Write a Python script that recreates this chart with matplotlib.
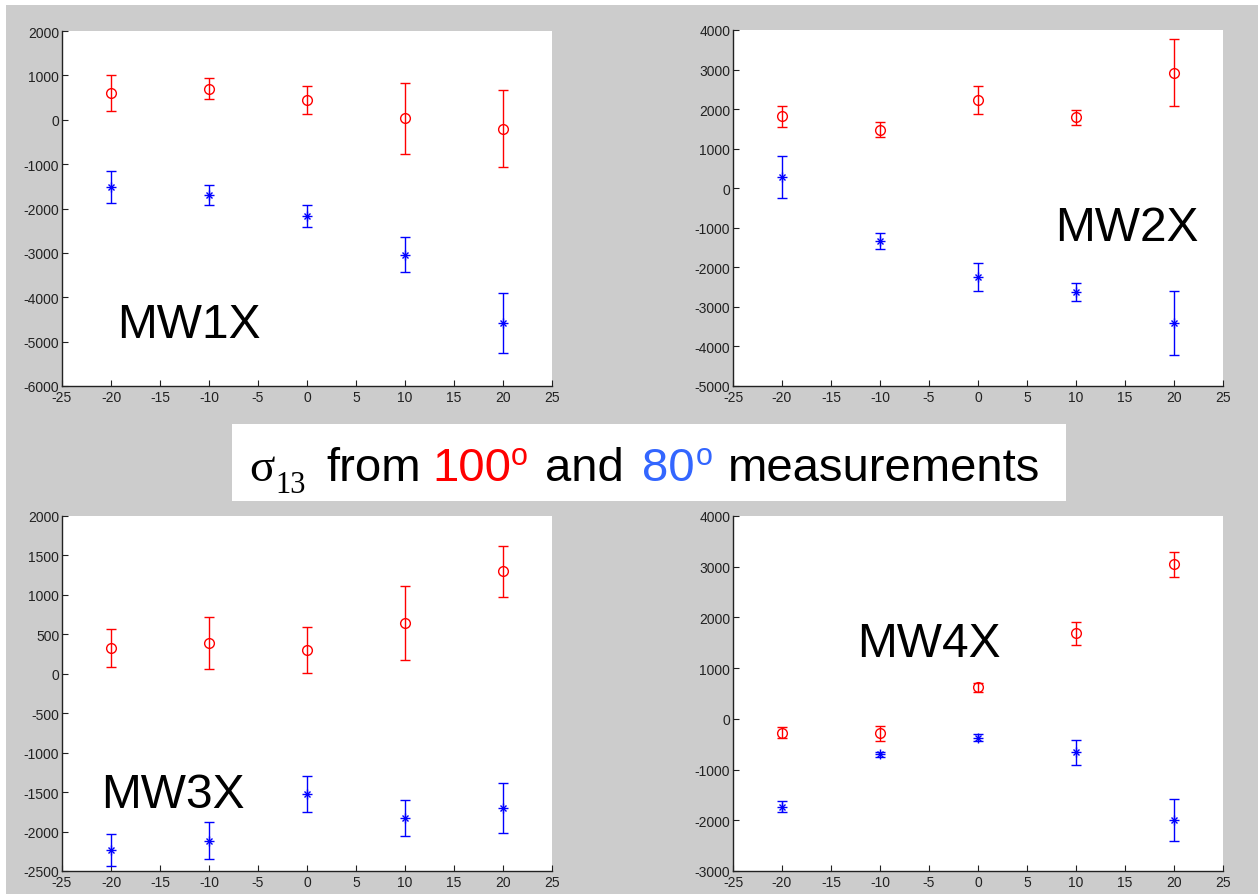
import matplotlib.pyplot as plt
from matplotlib.patches import Rectangle

W, H = 1258, 895

# angles (x axis)
angles = [-20, -10, 0, 10, 20]

# MW1X
mw1_red = [600, 700, 450, 30, -200]
mw1_red_err = [410, 235, 310, 795, 860]
mw1_blue = [-1510, -1700, -2170, -3040, -4590]
mw1_blue_err = [360, 225, 252, 388, 677]

# MW2X
mw2_red = [1820, 1480, 2225, 1790, 2915]
mw2_red_err = [267, 195, 347, 195, 847]
mw2_blue = [285, -1330, -2248, -2618, -3412]
mw2_blue_err = [530, 195, 360, 233, 805]

# MW3X
mw3_red = [325, 390, 300, 646, 1297]
mw3_red_err = [241, 328, 292, 473, 321]
mw3_blue = [-2230, -2117, -1522, -1828, -1700]
mw3_blue_err = [203, 237, 228, 230, 319]

# MW4X
mw4_red = [-270, -286, 619, 1688, 3044]
mw4_red_err = [100, 151, 82, 227, 240]
mw4_blue = [-1730, -699, -368, -662, -1995]
mw4_blue_err = [108, 46, 72, 250, 408]

panels = [
    # name, red, red err, blue, blue err, ylim, y step, axes box (px), label pos (axes frac)
    ("MW1X", mw1_red, mw1_red_err, mw1_blue, mw1_blue_err, (-6000, 2000), 1000, (62, 32, 552, 387), (0.112, 0.138)),
    ("MW2X", mw2_red, mw2_red_err, mw2_blue, mw2_blue_err, (-5000, 4000), 1000, (733, 31, 1223, 387), (0.657, 0.41)),
    ("MW3X", mw3_red, mw3_red_err, mw3_blue, mw3_blue_err, (-2500, 2000), 500, (62, 517, 552, 872), (0.080, 0.18)),
    ("MW4X", mw4_red, mw4_red_err, mw4_blue, mw4_blue_err, (-3000, 4000), 1000, (733, 517, 1223, 872), (0.254, 0.606)),
]

plt.rcParams['font.family'] = ['Liberation Sans', 'DejaVu Sans']
plt.rcParams['axes.unicode_minus'] = False

fig = plt.figure(figsize=(W / 100, H / 100), dpi=100)
fig.patch.set_facecolor('white')

# серый фон
fig.patches.append(Rectangle((6 / W, 0), 1 - 6 / W, 1 - 6 / H, transform=fig.transFigure,
                             facecolor='#cccccc', edgecolor='none', zorder=-10))

for name, red, red_err, blue, blue_err, ylim, ystep, box, lab in panels:
    x0, y0, x1, y1 = box
    ax = fig.add_axes([x0 / W, 1 - y1 / H, (x1 - x0) / W, (y1 - y0) / H])
    ax.set_facecolor('white')
    ax.errorbar(angles, red, yerr=red_err, fmt='o', color='#ff0000', mfc='none',
                ms=7, mew=1, elinewidth=1, capsize=3.5, capthick=1)
    ax.errorbar(angles, blue, yerr=blue_err, fmt='none', ecolor='#0000ff',
                elinewidth=1, capsize=3.5, capthick=1)
    ax.plot(angles, blue, ls='none', marker='+', color='#0000ff', ms=7, mew=1)
    ax.plot(angles, blue, ls='none', marker='x', color='#0000ff', ms=5, mew=1)
    ax.set_xlim(-25, 25)
    ax.set_ylim(*ylim)
    ax.set_xticks(range(-25, 26, 5))
    ax.set_yticks(range(ylim[0], ylim[1] + 1, ystep))
    for s in ['top', 'right']:
        ax.spines[s].set_visible(False)
    for s in ['left', 'bottom']:
        ax.spines[s].set_color('#222222')
        ax.spines[s].set_linewidth(1)
    ax.tick_params(direction='in', length=4, width=0.8, labelsize=10,
                   colors='#222222', pad=2)
    ax.tick_params(axis='x', pad=3)
    ax.text(lab[0], lab[1], name, transform=ax.transAxes, fontsize=34.5,
            ha='left', va='baseline', color='black')

# подпись в центре
fig.patches.append(Rectangle((232 / W, 1 - 502 / H), (1066 - 232) / W, (502 - 425) / H,
                             transform=fig.transFigure, facecolor='white',
                             edgecolor='none', zorder=-5))


def put(x, y, s, **kw):
    fig.text(x / W, 1 - y / H, s, ha='left', va='baseline', **kw)


put(249, 481, 'σ', fontsize=34, family='Liberation Serif')
put(275, 493, '13', fontsize=22, family='Liberation Serif')
put(326, 481, 'from', fontsize=34)
put(432, 481, '100', fontsize=34, color='#ff0000')
put(511, 465, 'o', fontsize=22, color='#ff0000')
put(545, 481, 'and', fontsize=34)
put(642, 481, '80', fontsize=34, color='#3366ff')
put(696, 465, 'o', fontsize=22, color='#3366ff')
put(728, 481, 'measurements', fontsize=34)

fig.savefig('out.png', dpi=100)
